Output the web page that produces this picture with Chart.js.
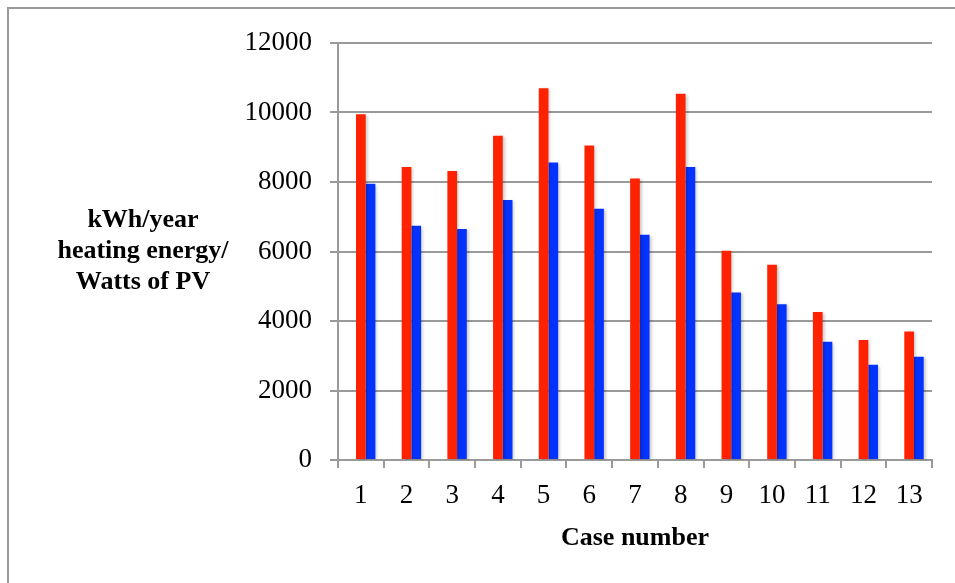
<!DOCTYPE html>
<html>
<head>
<meta charset="utf-8">
<script src="https://cdn.jsdelivr.net/npm/chart.js@4/dist/chart.umd.min.js"></script>
<style>
  html, body { margin: 0; padding: 0; background: #fff; overflow: hidden; }
  #wrap { position: relative; width: 955px; height: 583px; }
  #frame { position: absolute; left: 7px; top: 7px; width: 1000px; height: 1000px;
           border: 2px solid #9a9a9a; pointer-events: none; }
</style>
</head>
<body>
<div id="wrap">
  <canvas id="chart" width="955" height="583"></canvas>
  <div id="frame"></div>
</div>
<script>
const cases = ["1", "2", "3", "4", "5", "6", "7", "8", "9", "10", "11", "12", "13"];
const redValues = [9950, 8430, 8320, 9330, 10700, 9050, 8100, 10540, 6020, 5620, 4260, 3450, 3700];
const blueValues = [7950, 6740, 6650, 7480, 8560, 7230, 6480, 8430, 4820, 4480, 3400, 2740, 2970];
const yTitleLines = ["kWh/year", "heating energy/", "Watts of PV"];
const xTitle = "Case number";

const serif = "'Liberation Serif', 'Times New Roman', serif";

// horizontal y axis title, stacked in three lines left of the axis
const yTitlePlugin = {
    id: "yTitle",
    afterDraw(chart) {
        const ctx = chart.ctx;
        const area = chart.chartArea;
        const midY = (area.top + area.bottom) / 2;
        ctx.save();
        ctx.font = "bold 26px " + serif;
        ctx.fillStyle = "#000";
        ctx.textAlign = "center";
        ctx.textBaseline = "middle";
        yTitleLines.forEach((line, i) => {
            ctx.fillText(line, 143, midY + (i - 1) * 31);
        });
        ctx.restore();
    }
};

// soft drop shadow under the bars, like the spreadsheet original
const shadowPlugin = {
    id: "barShadow",
    beforeDatasetsDraw(chart) {
        const ctx = chart.ctx;
        ctx.save();
        ctx.shadowColor = "rgba(0,0,0,0.22)";
        ctx.shadowBlur = 3;
        ctx.shadowOffsetX = 2;
        ctx.shadowOffsetY = 1;
    },
    afterDatasetsDraw(chart) {
        chart.ctx.restore();
    }
};

new Chart(document.getElementById("chart"), {
    type: "bar",
    data: {
        labels: cases,
        datasets: [
            // empty slot so the pair sits a little right of the category centre
            { label: "", data: [], backgroundColor: "transparent" },
            { label: "Red", data: redValues, backgroundColor: "#ff2200" },
            { label: "Blue", data: blueValues, backgroundColor: "#0433ff" }
        ]
    },
    options: {
        responsive: false,
        animation: false,
        datasets: { bar: { categoryPercentage: 0.637, barPercentage: 1.0 } },
        layout: { padding: { top: 43, right: 23, bottom: 0, left: 0 } },
        plugins: {
            legend: { display: false },
            tooltip: { enabled: false }
        },
        scales: {
            x: {
                afterFit: s => { s.height = 123; },
                grid: { drawOnChartArea: false, drawTicks: true, tickLength: 8, color: "#9a9a9a", lineWidth: 2, offset: true },
                border: { color: "#9a9a9a", width: 2 },
                ticks: { color: "#000", font: { family: serif, size: 27 }, padding: 12, autoSkip: false, maxRotation: 0 },
                title: { display: true, text: xTitle, color: "#000", font: { family: serif, size: 26, weight: "bold" }, padding: { top: 0, bottom: 29 } }
            },
            y: {
                min: 0,
                max: 12000,
                afterFit: s => { s.width = 338; },
                grid: { color: "#9a9a9a", lineWidth: 2, tickLength: 8 },
                border: { color: "#9a9a9a", width: 2 },
                ticks: { stepSize: 2000, color: "#000", font: { family: serif, size: 27 }, padding: 18, callback: v => String(v) }
            }
        }
    },
    plugins: [yTitlePlugin, shadowPlugin]
});
</script>
</body>
</html>
